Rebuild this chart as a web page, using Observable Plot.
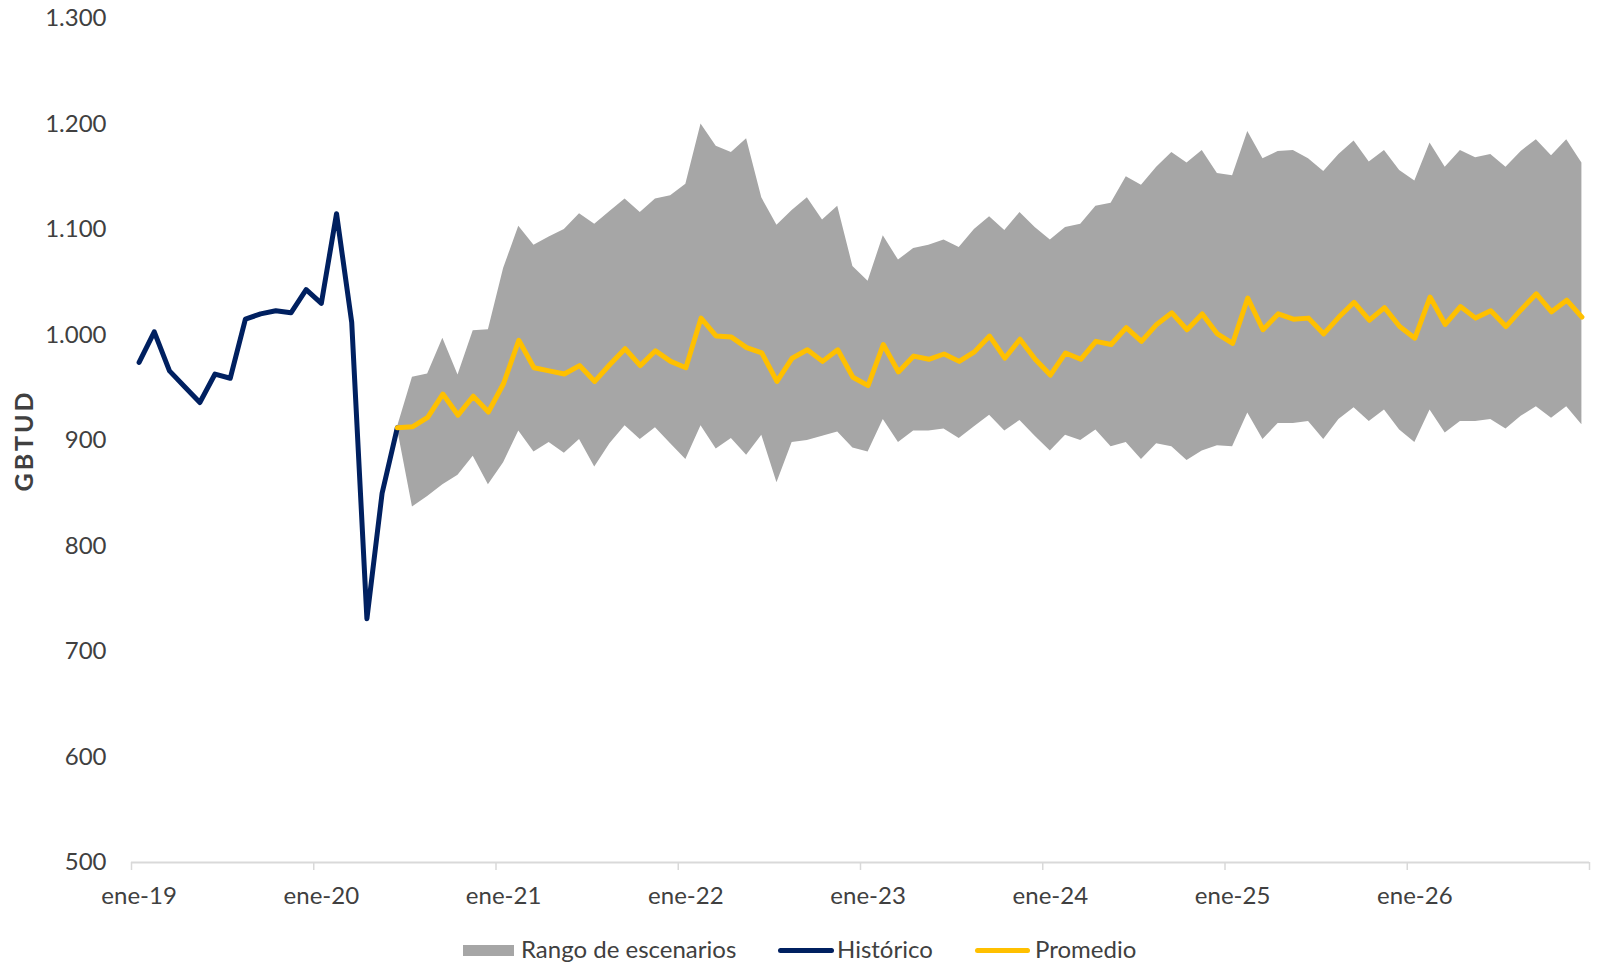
<!DOCTYPE html>
<html>
<head>
<meta charset="utf-8">
<script src="https://cdn.jsdelivr.net/npm/d3@7"></script>
<script src="https://cdn.jsdelivr.net/npm/@observablehq/plot@0.6"></script>
<style>
  html, body { margin: 0; padding: 0; background: #ffffff; }
  #wrap { position: relative; width: 1603px; height: 963px; overflow: hidden; font-family: Lato, "Open Sans", sans-serif; color: #404040; }
  #legend { position: relative; width: 1603px; height: 35px; }
  #legend .sw { position: absolute; }
  #legend .tx { position: absolute; top: 9px; font-size: 24px; line-height: 24px; white-space: nowrap; color: #404040; }
</style>
</head>
<body>
<div id="wrap">
  <div id="chart"></div>
  <div id="legend"></div>
</div>
<script>
// ---------- DATA (monthly, index 0 = ene-19) ----------
const xTickLabels = ["ene-19", "ene-20", "ene-21", "ene-22", "ene-23", "ene-24", "ene-25", "ene-26"];
const yTicks = [500, 600, 700, 800, 900, 1000, 1100, 1200, 1300];
const yTickLabels = ["500", "600", "700", "800", "900", "1.000", "1.100", "1.200", "1.300"];

// Histórico: ene-19 .. jun-20
const historico = [974, 1003, 966, 951, 936, 963, 959, 1015, 1020, 1023, 1021, 1043,
                   1030, 1115, 1012, 731, 850, 912];

// Forecast series start at jun-20 (index 17) and run to dic-26 (index 95)
const forecastStart = 17;
const promedio = [912, 913, 922, 944, 924, 942, 927,
  954, 995, 969, 966, 963, 971, 956, 972, 987, 971, 985, 975,
  969, 1016, 999, 998, 988, 983, 956, 978, 986, 975, 986, 960,
  952, 991, 965, 980, 977, 982, 975, 984, 999, 978, 996, 977,
  962, 983, 977, 994, 991, 1007, 994, 1010, 1021, 1005, 1020, 1001,
  992, 1035, 1005, 1020, 1015, 1016, 1001, 1017, 1031, 1014, 1026, 1008,
  997, 1036, 1010, 1027, 1016, 1023, 1008, 1024, 1039, 1022, 1033, 1017];
const rangoMin = [912, 837, 847, 858, 867, 885, 858,
  879, 909, 889, 898, 888, 901, 875, 897, 914, 901, 912, 897,
  882, 914, 892, 902, 886, 905, 860, 898, 900, 904, 908, 893,
  889, 920, 898, 909, 909, 911, 902, 913, 924, 909, 919, 904,
  890, 905, 900, 910, 894, 898, 882, 897, 894, 881, 890, 895,
  894, 926, 901, 916, 916, 918, 901, 920, 931, 918, 929, 910,
  898, 929, 907, 918, 918, 920, 911, 923, 932, 921, 932, 915];
const rangoMax = [912, 960, 963, 997, 962, 1004, 1005,
  1063, 1103, 1085, 1093, 1100, 1115, 1105, 1117, 1129, 1116, 1129, 1132,
  1143, 1200, 1179, 1173, 1186, 1130, 1104, 1118, 1130, 1109, 1122, 1065,
  1051, 1094, 1071, 1082, 1085, 1090, 1083, 1100, 1112, 1099, 1116, 1102,
  1090, 1102, 1105, 1122, 1125, 1150, 1142, 1159, 1173, 1163, 1175, 1153,
  1151, 1193, 1167, 1174, 1175, 1167, 1155, 1171, 1184, 1164, 1175, 1156,
  1146, 1182, 1159, 1175, 1168, 1171, 1159, 1174, 1185, 1170, 1185, 1163];

const seriesNames = ["Rango de escenarios", "Histórico", "Promedio"];
const colors = { rango: "#A6A6A6", historico: "#002060", promedio: "#FFC000" };
const nMonths = 96;

// ---------- TABLES ----------
const hist = historico.map((v, i) => ({ m: i + 0.5, v }));
const fc = promedio.map((v, k) => ({ m: k + forecastStart + 0.5, v, lo: rangoMin[k], hi: rangoMax[k] }));
const yearTicks = d3.range(0, nMonths + 1, 12);
const labelPos = xTickLabels.map((_, k) => k * 12 + 0.5);
const labelMap = new Map(labelPos.map((p, k) => [p, xTickLabels[k]]));
const yLabelMap = new Map(yTicks.map((t, k) => [t, yTickLabels[k]]));

const chart = Plot.plot({
  width: 1603,
  height: 928,
  marginLeft: 131,
  marginRight: 14,
  marginTop: 18,
  marginBottom: 66,
  style: { fontFamily: "Lato, 'Open Sans', sans-serif", fontSize: "24px", color: "#404040", background: "#ffffff" },
  x: { domain: [0, nMonths], axis: null, label: null },
  y: { domain: [500, 1300], axis: null, label: null },
  marks: [
    Plot.areaY(fc, { x: "m", y1: "lo", y2: "hi", fill: colors.rango }),
    Plot.ruleY([500], { stroke: "#D9D9D9", strokeWidth: 2 }),
    Plot.axisX({ ticks: yearTicks, tickSize: 8, tickFormat: () => "", stroke: "#D9D9D9", strokeWidth: 1.5, label: null }),
    Plot.axisX({ ticks: labelPos, tickSize: 0, tickPadding: 24, tickFormat: d => labelMap.get(d), fill: "#404040", fontSize: 24, label: null }),
    Plot.axisY({ ticks: yTicks, tickSize: 0, tickPadding: 25, tickFormat: d => yLabelMap.get(d), fill: "#404040", fontSize: 24, label: null }),
    Plot.line(hist, { x: "m", y: "v", stroke: colors.historico, strokeWidth: 5, strokeLinejoin: "round", strokeLinecap: "round" }),
    Plot.line(fc, { x: "m", y: "v", stroke: colors.promedio, strokeWidth: 5, strokeLinejoin: "round", strokeLinecap: "round" }),
    Plot.text(["GBTUD"], { frameAnchor: "left", rotate: -90, dx: -107, text: d => d, fontWeight: "bold", fontSize: 25, fill: "#404040", textAnchor: "middle", className: "ylab" })
  ]
});
document.getElementById("chart").appendChild(chart);
d3.select(chart).selectAll(".ylab text").style("letter-spacing", "3px");

// ---------- LEGEND ----------
const legend = d3.select("#legend");
const items = [
  { name: seriesNames[0], kind: "rect", color: colors.rango, sx: 463, sw: 51, tx: 521 },
  { name: seriesNames[1], kind: "line", color: colors.historico, sx: 778, sw: 56, tx: 837 },
  { name: seriesNames[2], kind: "line", color: colors.promedio, sx: 975, sw: 55, tx: 1035 }
];
for (const it of items) {
  const s = legend.append("div").attr("class", "sw")
    .style("left", it.sx + "px").style("width", it.sw + "px").style("background", it.color);
  if (it.kind === "rect") s.style("top", "17px").style("height", "11px");
  else s.style("top", "19.5px").style("height", "5px").style("border-radius", "2.5px");
  legend.append("div").attr("class", "tx").style("left", it.tx + "px").text(it.name);
}
</script>
</body>
</html>
